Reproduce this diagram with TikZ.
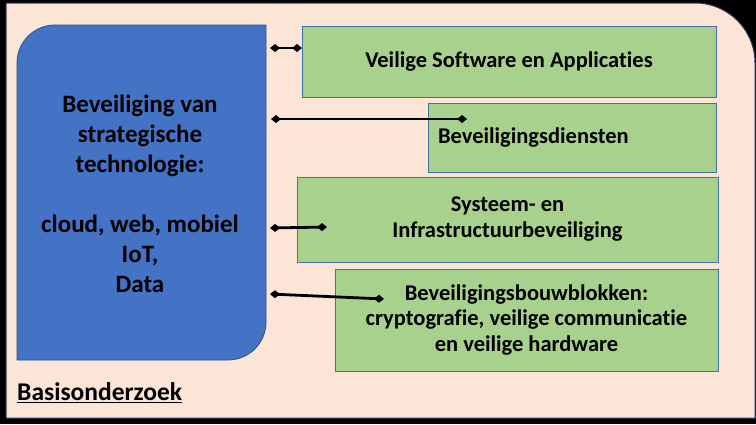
\documentclass[tikz,border=0pt]{standalone}
\usepackage{fontspec}
\setmainfont[Ligatures=NoCommon]{Carlito}
\usetikzlibrary{arrows.meta}
\definecolor{peach}{HTML}{FBE5D6}
\definecolor{peachline}{HTML}{2F3B5A}
\definecolor{bluebox}{HTML}{4472C4}
\definecolor{blueline}{HTML}{2F528F}
\definecolor{greenbox}{HTML}{A9D18E}
\definecolor{greenline}{HTML}{41719C}
\begin{document}
\begin{tikzpicture}[x=1pt,y=-1pt,
  gbox/.style={draw=greenline, fill=greenbox, line width=1pt, inner sep=0pt, outer sep=0pt,
    anchor=north west, align=center, font=\bfseries\fontsize{22.5}{26}\selectfont},
  conn/.style={line width=2.8pt, {Diamond[length=10pt,width=8pt]}-{Diamond[length=10pt,width=8pt]}},
  bigtext/.style={font=\bfseries\fontsize{25}{30}\selectfont, align=center, inner sep=0pt}]
% background
\fill[black] (0,0) rectangle (756,424);
\path[use as bounding box] (0,0) rectangle (756,424);
% peach panel
\filldraw[fill=peach, draw=peachline, line width=1pt]
  (6,3) -- (695,3) arc[start angle=270, end angle=360, radius=60] -- (755,418) -- (6,418) -- cycle;
% blue shape
\filldraw[fill=bluebox, draw=blueline, line width=0.8pt]
  (17,360) -- (17,63) arc[start angle=180, end angle=270, radius=38] -- (266,25) -- (266,322)
  arc[start angle=0, end angle=90, radius=38] -- cycle;
\node[bigtext] (tech) at (140,194) {Beveiliging van\\strategische\\technologie:\\[30pt]cloud, web, mobiel\\IoT,\\Data};
% green boxes
\node[gbox, minimum width=414pt, minimum height=71pt] (b1) at (302,26) {Veilige Software en Applicaties};
\node[gbox, minimum width=288pt, minimum height=69pt, text width=268pt, inner xsep=10pt, align=left] (b2) at (428,103) {Beveiligingsdiensten};
\node[gbox, minimum width=421pt, minimum height=85pt] (b3) at (297,177) {Systeem- en\\Infrastructuurbeveiliging};
\node[gbox, minimum width=383pt, minimum height=102pt, font=\bfseries\fontsize{22.5}{25.5}\selectfont] (b4) at (335,269) {Beveiligingsbouwblokken:\\cryptografie, veilige communicatie\\en veilige hardware};
% connector ends
\coordinate (c1a) at (270,48);
\coordinate (c1b) at (302,48);
\coordinate (c2a) at (271,119);
\coordinate (c2b) at (467,119);
\coordinate (c3a) at (270,228);
\coordinate (c3b) at (327,227);
\coordinate (c4a) at (270,294);
\coordinate (c4b) at (384,299);
\draw[conn] (c1a) -- (c1b);
\draw[conn] (c2a) -- (c2b);
\draw[conn] (c3a) -- (c3b);
\draw[conn] (c4a) -- (c4b);
% label
\node[anchor=west, inner sep=0pt, font=\bfseries\fontsize{25.5}{28}\selectfont] (basis) at (17,393) {\underline{Basisonderzoek}};
\end{tikzpicture}
\end{document}
